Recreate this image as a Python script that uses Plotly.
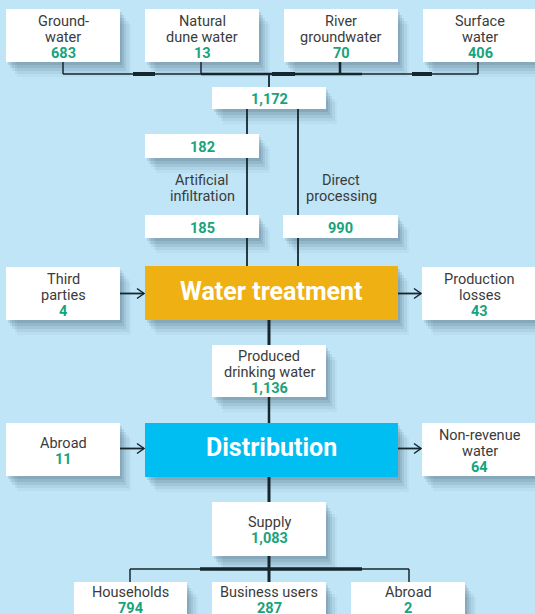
import plotly.graph_objects as go

# ---------------- data ----------------
source_labels = [["Ground-", "water"], ["Natural", "dune water"], ["River", "groundwater"], ["Surface", "water"]]
source_values = [683, 13, 70, 406]
intake_total = 1172
route_labels = [["Artificial", "infiltration"], ["Direct", "processing"]]
infiltration_in = 182
infiltration_out = 185
direct_processing = 990
third_parties_label = ["Third", "parties"]
third_parties_value = 4
production_losses_label = ["Production", "losses"]
production_losses_value = 43
treatment_title = "Water treatment"
produced_label = ["Produced", "drinking water"]
produced_value = 1136
distribution_title = "Distribution"
abroad_in_label = ["Abroad"]
abroad_in_value = 11
nonrevenue_label = ["Non-revenue", "water"]
nonrevenue_value = 64
supply_label = ["Supply"]
supply_value = 1083
user_labels = [["Households"], ["Business users"], ["Abroad"]]
user_values = [794, 287, 2]

# ---------------- style ----------------
BG = "#BFE5F7"
TXT = "#3b3b3b"
NUM = "#17A37B"
LINE = "#16262e"
ORANGE = "#EEB013"
CYAN = "#00BDF2"
FONT = "Roboto, sans-serif"
FS = 14.5
LH = 16
DY = 1.5  # visual baseline correction

W, H = 535, 614
fig = go.Figure()
shapes = []
annotations = []


def shadow(x0, y0, x1, y1):
    for dx, dy, op in [(2, 3, 0.11), (4, 6, 0.10), (6, 9, 0.08), (9, 12, 0.06), (11, 15, 0.04)]:
        shapes.append(dict(type="rect", x0=x0 + dx, y0=y0 + dy, x1=x1 + dx, y1=y1 + dy,
                           xref="x", yref="y", line=dict(width=0),
                           fillcolor=f"rgba(25,55,75,{op})", layer="above"))


def rect(x0, y0, x1, y1, color="white"):
    shapes.append(dict(type="rect", x0=x0, y0=y0, x1=x1, y1=y1, xref="x", yref="y",
                       line=dict(width=0), fillcolor=color, layer="above"))


def line(x0, y0, x1, y1, w=1.5):
    shapes.append(dict(type="line", x0=x0, y0=y0, x1=x1, y1=y1, xref="x", yref="y",
                       line=dict(color=LINE, width=w), layer="above"))


def arrow(x0, x1, y):
    line(x0, y, x1 - 1, y, 1.8)
    shapes.append(dict(type="path", path=f"M {x1-8},{y-5} L {x1-1},{y} L {x1-8},{y+5}",
                       xref="x", yref="y", line=dict(color=LINE, width=1.5), layer="above"))


def text(x, y, s, color=TXT, size=FS, bold=False):
    annotations.append(dict(x=x, y=y + DY, xref="x", yref="y", text=f"<b>{s}</b>" if bold else s,
                            showarrow=False, xanchor="center", yanchor="middle",
                            font=dict(family=FONT, size=size, color=color)))


def box_text(x0, y0, x1, y1, label_lines, value, center=None):
    lines = list(label_lines) + ([f"{value:,}"] if value is not None else [])
    n = len(lines)
    cx = (x0 + x1) / 2
    cy = center if center is not None else (y0 + y1) / 2
    start = cy - (n - 1) * LH / 2
    for i, s in enumerate(lines):
        is_num = value is not None and i == n - 1
        text(cx, start + i * LH, s, NUM if is_num else TXT, bold=is_num)


# geometry (layout only)
top_boxes = [(6, 9, 120, 62), (145, 9, 259, 62), (284, 9, 398, 62), (423, 9, 537, 62)]
total_box = (212, 87, 326, 109)
inf_in_box = (145, 134, 259, 158)
inf_out_box = (145, 215, 259, 238)
direct_box = (283, 215, 398, 238)
treat_box = (145, 266, 398, 320)
third_box = (6, 267, 120, 320)
loss_box = (422, 267, 537, 320)
produced_box = (212, 345, 326, 397)
dist_box = (145, 423, 398, 477)
abroad_box = (6, 423, 120, 476)
nrw_box = (422, 423, 537, 476)
supply_box = (212, 502, 326, 556)
user_boxes = [(74, 582, 187, 620), (212, 582, 326, 620), (351, 582, 465, 620)]

all_boxes = top_boxes + [total_box, inf_in_box, inf_out_box, direct_box, treat_box, third_box,
                         loss_box, produced_box, dist_box, abroad_box, nrw_box, supply_box] + user_boxes

# shadows first
for b in all_boxes:
    shadow(*b)

# connector lines
line(63, 62, 63, 74)
line(201, 62, 201, 74)
line(340, 62, 340, 74, 2.5)
line(478, 62, 478, 74)
line(63, 74, 478, 74, 1.5)
line(201, 74, 362, 74, 2.5)
for a, b in [(133, 155), (272, 295), (412, 432)]:
    line(a, 74, b, 74, 4)
line(269, 74, 269, 87, 1.8)
line(247, 109, 247, 266, 1.8)
line(298, 109, 298, 266, 1.8)
line(269, 320, 269, 345, 3)
line(269, 397, 269, 423, 2.5)
line(269, 477, 269, 502, 3)
line(269, 556, 269, 582, 3)
line(130, 569, 409, 569, 1.5)
line(200, 569, 362, 569, 3.5)
line(130, 569, 130, 582, 1.5)
line(409, 569, 409, 582, 1.5)
arrow(120, 145, 293.5)
arrow(398, 422, 293.5)
arrow(120, 145, 448.5)
arrow(398, 422, 448.5)

# boxes
for b in all_boxes:
    if b == treat_box:
        rect(*b, color=ORANGE)
    elif b == dist_box:
        rect(*b, color=CYAN)
    else:
        rect(*b)

# texts
for b, lab, v in zip(top_boxes, source_labels, source_values):
    box_text(*b, lab, v)
box_text(*total_box, [], intake_total)
box_text(*inf_in_box, [], infiltration_in)
box_text(*inf_out_box, [], infiltration_out)
box_text(*direct_box, [], direct_processing)
for cx, lab in zip([202, 341], route_labels):
    text(cx, 179, lab[0])
    text(cx, 195, lab[1])
box_text(*third_box, third_parties_label, third_parties_value)
box_text(*loss_box, production_losses_label, production_losses_value)
text((treat_box[0] + treat_box[2]) / 2, 289.5, treatment_title, "white", 25, True)
box_text(*produced_box, produced_label, produced_value)
text((dist_box[0] + dist_box[2]) / 2, 445.5, distribution_title, "white", 25, True)
box_text(*abroad_box, abroad_in_label, abroad_in_value)
box_text(*nrw_box, nonrevenue_label, nonrevenue_value)
box_text(*supply_box, supply_label, supply_value)
for b, lab, v in zip(user_boxes, user_labels, user_values):
    box_text(*b, lab, v, center=599)

fig.update_layout(
    width=W, height=H, margin=dict(l=0, r=0, t=0, b=0),
    paper_bgcolor=BG, plot_bgcolor=BG,
    xaxis=dict(range=[0, W], visible=False, fixedrange=True),
    yaxis=dict(range=[H, 0], visible=False, fixedrange=True),
    shapes=shapes, annotations=annotations, showlegend=False,
)
fig.write_html("out.html", config={"displayModeBar": False},
               post_script="document.body.style.margin='0';document.body.style.background='" + BG + "';")
